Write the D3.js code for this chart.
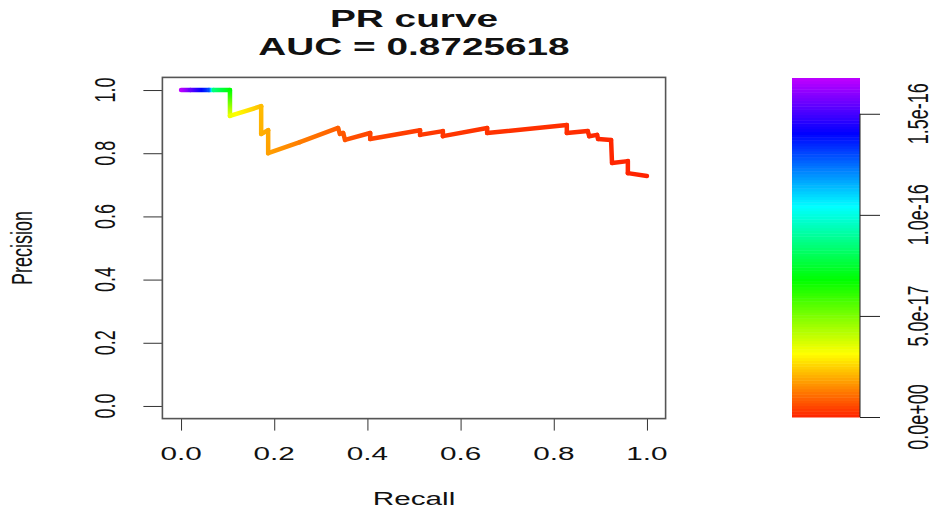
<!DOCTYPE html>
<html>
<head>
<meta charset="utf-8">
<script src="https://cdn.jsdelivr.net/npm/d3@7"></script>
<style>
  body { margin: 0; background: #fff; }
  text { font-family: "Liberation Sans", Arial, sans-serif; fill: #111; }
</style>
</head>
<body>
<script>
// PR curve points (recall, precision, threshold in 1e-16)
const recall    = [0, 0.02, 0.06, 0.07, 0.105, 0.105, 0.172, 0.172, 0.187, 0.187, 0.255, 0.337, 0.341, 0.348, 0.352, 0.406, 0.406, 0.513, 0.513, 0.562, 0.562, 0.657, 0.657, 0.828, 0.828, 0.873, 0.876, 0.893, 0.895, 0.923, 0.925, 0.959, 0.959, 1.0];
const precision = [1, 1, 1, 1, 1, 0.918, 0.949, 0.861, 0.873, 0.80, 0.835, 0.880, 0.861, 0.864, 0.842, 0.864, 0.845, 0.873, 0.858, 0.870, 0.854, 0.880, 0.864, 0.889, 0.864, 0.870, 0.854, 0.858, 0.845, 0.842, 0.769, 0.775, 0.737, 0.728];
const threshold = [1.67, 1.55, 1.3, 0.85, 0.68, 0.34, 0.22, 0.2, 0.19, 0.18, 0.13, 0.085, 0.08, 0.075, 0.07, 0.05, 0.048, 0.035, 0.033, 0.03, 0.028, 0.025, 0.023, 0.018, 0.016, 0.014, 0.012, 0.01, 0.009, 0.008, 0.006, 0.004, 0.003, 0.001];

const axisTicks = [0, 0.2, 0.4, 0.6, 0.8, 1.0];
const barTicks = [0, 5e-17, 1e-16, 1.5e-16];
const barMax = 1.677e-16;

const mainTitle = "PR curve";
const aucLabel = "AUC = 0.8725618";
const xLabel = "Recall";
const yLabel = "Precision";

const W = 937, H = 510;
const sx = 1.65; // the picture is stretched sideways

const svg = d3.select('body').append('svg')
  .attr('width', W).attr('height', H);

// plot box
const x = d3.scaleLinear().domain([-0.04, 1.04]).range([162.4, 665.6]);
const y = d3.scaleLinear().domain([-0.04, 1.04]).range([418.6, 77.4]);

const hue = t => d3.hsl(8 + 277 * Math.max(0, Math.min(1, t)), 1, 0.5).toString();
const col = v => hue(v / barMax);

function putText(txt, px, py, rot, size, weight) {
  return svg.append('text')
    .attr('transform', `translate(${px},${py}) scale(${sx},1) rotate(${rot})`)
    .attr('text-anchor', 'middle')
    .attr('font-size', size)
    .attr('font-weight', weight || 'normal')
    .text(txt);
}

// x axis
const gx = svg.append('g')
  .attr('transform', `translate(0,${y.range()[0]})`)
  .call(d3.axisBottom(x).tickValues(axisTicks).tickSize(12).tickFormat(''));
gx.select('.domain').attr('d', `M${x(0)},0H${x(1)}`);
gx.selectAll('line,path').attr('stroke', '#333');

// y axis
const gy = svg.append('g')
  .attr('transform', `translate(${x.range()[0]},0)`)
  .call(d3.axisLeft(y).tickValues(axisTicks).tickSize(19).tickFormat(''));
gy.select('.domain').attr('d', `M0,${y(0)}V${y(1)}`);
gy.selectAll('line,path').attr('stroke', '#333');

axisTicks.forEach(v => {
  putText(d3.format('.1f')(v), x(v), 460, 0, 18);
  putText(d3.format('.1f')(v), 115, y(v), -90, 18);
});

svg.append('rect')
  .attr('x', x.range()[0]).attr('y', y.range()[1])
  .attr('width', x.range()[1] - x.range()[0])
  .attr('height', y.range()[0] - y.range()[1])
  .attr('fill', 'none').attr('stroke', '#555').attr('stroke-width', 1.6);

// curve, one gradient segment per pair of points
const defs = svg.append('defs');
const curve = svg.append('g');
for (let i = 0; i < recall.length - 1; i++) {
  const x1 = x(recall[i]), y1 = y(precision[i]);
  const x2 = x(recall[i + 1]), y2 = y(precision[i + 1]);
  const a = threshold[i] * 1e-16, b = threshold[i + 1] * 1e-16;
  const gid = 'seg' + i;
  const gr = defs.append('linearGradient').attr('id', gid)
    .attr('gradientUnits', 'userSpaceOnUse')
    .attr('x1', x1).attr('y1', y1).attr('x2', x2).attr('y2', y2);
  d3.range(0, 1.001, 0.1).forEach(f => {
    gr.append('stop').attr('offset', f).attr('stop-color', col(a + (b - a) * f));
  });
  curve.append('line')
    .attr('x1', x1).attr('y1', y1).attr('x2', x2).attr('y2', y2)
    .attr('stroke', `url(#${gid})`)
    .attr('stroke-width', 4.5)
    .attr('stroke-linecap', 'round');
}

// titles
putText(mainTitle, 414, 27, 0, 23.5, 'bold');
putText(aucLabel, 414, 55, 0, 23.5, 'bold');
putText(xLabel, 414, 505, 0, 18);
putText(yLabel, 32, 248, -90, 18);

// colour bar
const cb = d3.scaleLinear().domain([0, barMax]).range([417, 78]);
const nBar = 120;
const barG = svg.append('g');
d3.range(nBar).forEach(i => {
  const v0 = barMax * i / nBar, v1 = barMax * (i + 1) / nBar;
  barG.append('rect')
    .attr('x', 792).attr('width', 68)
    .attr('y', cb(v1)).attr('height', cb(v0) - cb(v1) + 0.5)
    .attr('fill', col((v0 + v1) / 2));
});
const gc = svg.append('g')
  .attr('transform', 'translate(860,0)')
  .call(d3.axisRight(cb).tickValues(barTicks).tickSize(20).tickFormat(''));
gc.select('.domain').attr('d', `M0,${cb(0)}V${cb(1.5e-16)}`);
gc.selectAll('line,path').attr('stroke', '#222');

barTicks.forEach(v => {
  putText(d3.format('.1e')(v).replace(/e([+-])(\d)$/, 'e$10$2'), 928, cb(v), -90, 18);
});
</script>
</body>
</html>
